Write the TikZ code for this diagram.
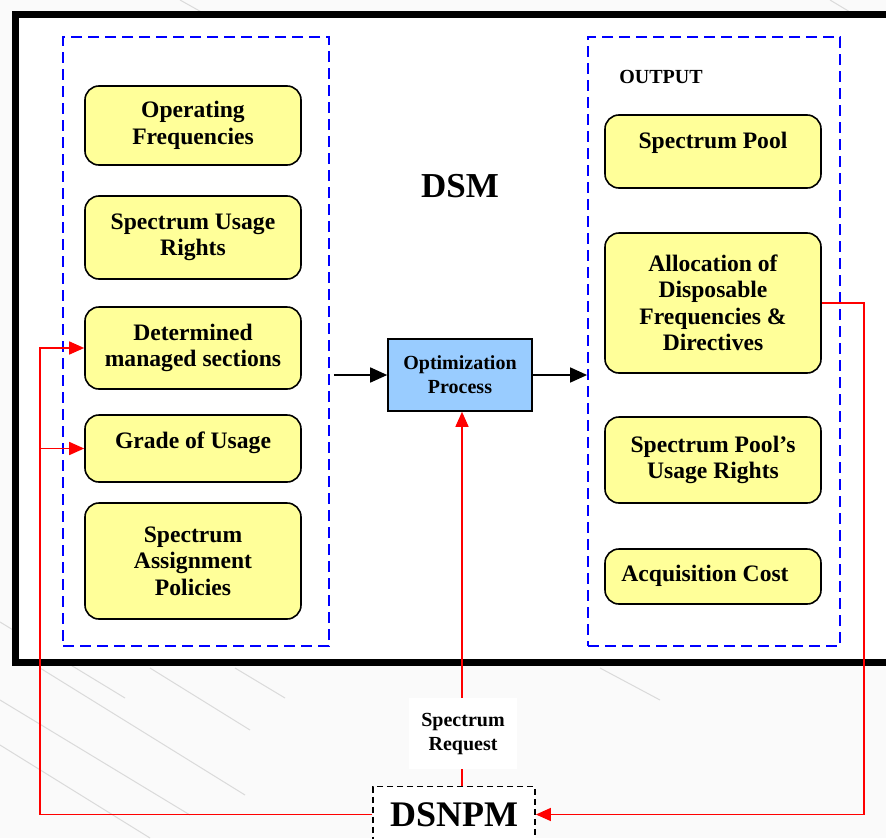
\documentclass[tikz,border=0pt]{standalone}
\usepackage{fontspec}
\setmainfont{Liberation Serif}
\usetikzlibrary{arrows.meta}
\definecolor{boxyellow}{RGB}{255,255,153}
\definecolor{procblue}{RGB}{153,204,255}
\definecolor{paper}{RGB}{250,250,250}
\definecolor{wmgray}{RGB}{218,218,218}
\definecolor{dashblue}{RGB}{0,0,255}
\definecolor{linkred}{RGB}{255,0,0}

\begin{document}
\begin{tikzpicture}[x=1pt,y=-1pt,
  ybox/.style={draw=black, line width=1.6pt, fill=boxyellow, rounded corners=14pt,
    minimum width=216pt, inner sep=0pt, align=center,
    font=\fontsize{23.6}{26.5}\selectfont\bfseries},
  groupbox/.style={draw=dashblue, line width=1.8pt, dash pattern=on 11pt off 6pt,
    inner sep=0pt},
  procbox/.style={draw=black, line width=1.6pt, fill=procblue, inner sep=0pt,
    minimum width=144pt, minimum height=72pt, align=center,
    font=\fontsize{20}{24}\selectfont\bfseries},
  blkarrow/.style={line width=1.6pt, -{Triangle[length=17pt,width=15pt]}},
  redline/.style={draw=linkred, line width=1.5pt},
  redarrow/.style={redline, -{Triangle[length=15pt,width=13pt]}},
  watermark/.style={draw=wmgray, line width=1pt}
]
\useasboundingbox (0,0) rectangle (886,838);
\clip (0,0) rectangle (886,838);

% page background and faint watermark strokes
\fill[paper] (0,0) rectangle (886,838);
\draw[watermark] (0,622) -- (125,698);
\draw[watermark] (0,700) -- (190,815);
\draw[watermark] (0,745) -- (150,838);
\draw[watermark] (40,668) -- (245,795);
\draw[watermark] (150,668) -- (250,730);
\draw[watermark] (235,668) -- (285,698);
\draw[watermark] (600,668) -- (660,700);
\draw[watermark] (180,0) -- (205,14);
\draw[watermark] (830,0) -- (850,12);

% outer DSM frame
\fill[white] (15.5,14) rectangle (900,662.5);
\draw[line width=7pt] (15.5,14) rectangle (900,662.5);

% input and output groups
\node[groupbox, minimum width=266pt, minimum height=609pt] (inbox) at (196,341.5) {};
\node[groupbox, minimum width=252pt, minimum height=609pt] (outbox) at (714,341.5) {};

\node[font=\fontsize{20}{24}\selectfont\bfseries] (outlbl) at (661,77) {OUTPUT};
\node[font=\fontsize{35}{40}\selectfont\bfseries] (dsm) at (460,186) {DSM};

% input parameters
\node[ybox, minimum height=79pt] (opfreq) at (193,125.5) {Operating\\Frequencies};
\node[ybox, minimum height=83pt] (usage) at (193,237.5) {Spectrum Usage\\Rights};
\node[ybox, minimum height=82pt] (det) at (193,348) {Determined\\managed sections};
\node[ybox, minimum height=67pt] (grade) at (193,448.5) {\raisebox{16pt}{Grade of Usage}};
\node[ybox, minimum height=116pt] (policy) at (193,561) {Spectrum\\Assignment\\Policies};

% outputs
\node[ybox, minimum height=73pt] (pool) at (713,151.5) {\raisebox{22pt}{Spectrum Pool}};
\node[ybox, minimum height=140pt] (alloc) at (713,303) {Allocation of\\Disposable\\Frequencies \&\\Directives};
\node[ybox, minimum height=86pt] (poolrights) at (713,460) {Spectrum Pool’s\\Usage Rights};
\node[ybox, minimum height=55pt] (acq) at (713,576.5) {\raisebox{7pt}{Acquisition Cost\hspace*{16pt}}};

% optimisation step
\node[procbox] (opt) at (460,375) {Optimization\\Process};

\draw[blkarrow] ([xshift=4pt]inbox.east |- opt.west) -- (opt.west);
\draw[blkarrow] (opt.east) -- (outbox.west |- opt.east);

% DSNPM manager below the frame
\node[draw=black, line width=1.8pt, dash pattern=on 6pt off 4pt, fill=white,
  minimum width=162pt, minimum height=56pt, inner sep=0pt,
  font=\fontsize{36}{40}\selectfont\bfseries] (dsnpm) at (454,814.5) {DSNPM};

\coordinate (lx) at (40,0);
\coordinate (rx) at (864,0);
\coordinate (ux) at (462,0);

% spectrum request path
\draw[redarrow] (dsnpm.north -| ux) -- (opt.south -| ux);
\node[fill=white, minimum width=108pt, minimum height=71pt, inner sep=0pt, align=center,
  font=\fontsize{20}{24}\selectfont\bfseries] (sreq) at (463,733.5) {Spectrum\\Request};

% feedback to the inputs
\draw[redarrow] (dsnpm.west) -- (dsnpm.west -| lx) |- (det.west);
\draw[redarrow] (grade.west -| lx) -- (grade.west);

% allocation result back to DSNPM
\draw[redarrow] (alloc.east) -- (alloc.east -| rx) |- (dsnpm.east);
\end{tikzpicture}
\end{document}
